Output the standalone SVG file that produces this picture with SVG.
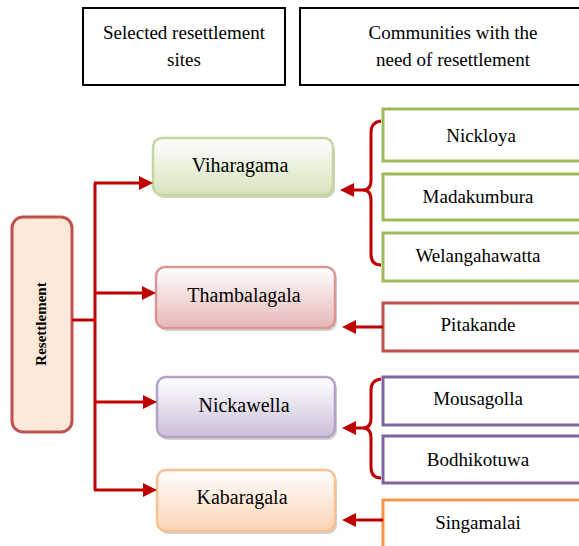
<svg xmlns="http://www.w3.org/2000/svg" width="579" height="546" viewBox="0 0 579 546">
<style>
text{font-family:'Liberation Serif',serif;fill:#000;text-anchor:middle}
.hdr{fill:#fff;stroke:#000;stroke-width:2}
.site{stroke-width:2.5}
.shd{fill:#000;fill-opacity:0.18}
.com{fill:#fff;stroke-width:3}
.ln{fill:none;stroke:#c00000;stroke-width:3}
.arr{fill:#c00000}
</style>
<defs>
<linearGradient id="gG" x1="0" y1="0" x2="0" y2="1"><stop offset="0" stop-color="#ffffff"/><stop offset="1" stop-color="#d6e3bc"/></linearGradient>
<linearGradient id="gR" x1="0" y1="0" x2="0" y2="1"><stop offset="0" stop-color="#ffffff"/><stop offset="1" stop-color="#e5b8b7"/></linearGradient>
<linearGradient id="gP" x1="0" y1="0" x2="0" y2="1"><stop offset="0" stop-color="#ffffff"/><stop offset="1" stop-color="#ccc0da"/></linearGradient>
<linearGradient id="gO" x1="0" y1="0" x2="0" y2="1"><stop offset="0" stop-color="#ffffff"/><stop offset="1" stop-color="#fbd4b4"/></linearGradient>
</defs>

<g id="header1"><rect class="hdr" x="83" y="8" width="202" height="77"/><text x="184" y="39" font-size="19">Selected resettlement</text><text x="184" y="66" font-size="19">sites</text></g>
<g id="header2"><rect class="hdr" x="300" y="8" width="285" height="77"/><text x="453" y="39" font-size="19">Communities with the</text><text x="453" y="66" font-size="19">need of resettlement</text></g>

<g id="resettlement"><rect x="12" y="217" width="60" height="215" rx="11" fill="#fde9d9" stroke="#c0504d" stroke-width="3"/><text font-size="15" font-weight="bold" transform="translate(46,324) rotate(-90)">Resettlement</text></g>

<g id="viharagama"><rect class="shd" x="155" y="141" width="180" height="57" rx="9"/><rect class="site" x="153" y="138" width="180" height="57" rx="9" fill="url(#gG)" stroke="#c3d69b"/><text x="240" y="172" font-size="20">Viharagama</text></g>
<g id="thambalagala"><rect class="shd" x="158" y="270" width="179" height="61" rx="9"/><rect class="site" x="156" y="267" width="179" height="61" rx="9" fill="url(#gR)" stroke="#d99694"/><text x="244" y="302" font-size="20">Thambalagala</text></g>
<g id="nickawella"><rect class="shd" x="159" y="380" width="178" height="60" rx="9"/><rect class="site" x="157" y="377" width="178" height="60" rx="9" fill="url(#gP)" stroke="#b3a2c7"/><text x="244" y="412" font-size="20">Nickawella</text></g>
<g id="kabaragala"><rect class="shd" x="159" y="473" width="178" height="61" rx="9"/><rect class="site" x="157" y="470" width="178" height="61" rx="9" fill="url(#gO)" stroke="#fac08f"/><text x="242" y="504" font-size="20">Kabaragala</text></g>

<g id="nickloya"><rect class="com" x="383" y="109" width="200" height="52" stroke="#9bbb59"/><text x="481" y="142" font-size="19">Nickloya</text></g>
<g id="madakumbura"><rect class="com" x="383" y="174" width="200" height="46" stroke="#9bbb59"/><text x="478" y="203" font-size="19">Madakumbura</text></g>
<g id="welangahawatta"><rect class="com" x="383" y="233" width="200" height="48" stroke="#9bbb59"/><text x="478" y="262" font-size="19">Welangahawatta</text></g>
<g id="pitakande"><rect class="com" x="383" y="303" width="200" height="48" stroke="#c0504d"/><text x="478" y="331" font-size="19">Pitakande</text></g>
<g id="mousagolla"><rect class="com" x="383" y="377" width="200" height="48" stroke="#8064a2"/><text x="478" y="405" font-size="19">Mousagolla</text></g>
<g id="bodhikotuwa"><rect class="com" x="383" y="436" width="200" height="47" stroke="#8064a2"/><text x="478" y="466" font-size="19">Bodhikotuwa</text></g>
<g id="singamalai"><rect class="com" x="383" y="500" width="200" height="52" stroke="#f79646"/><text x="478" y="529" font-size="19">Singamalai</text></g>

<g id="connectors">
<path class="ln" d="M72,320 H95 M95,183 V490"/>
<path class="ln" d="M94,183 H140 M94,293 H143 M94,402 H144 M94,490 H144"/>
<path class="arr" d="M153,183 L139,176 L139,190 Z M156,293 L142,286 L142,300 Z M157,402 L143,395 L143,409 Z M157,490 L143,483 L143,497 Z"/>
<path class="ln" d="M381,121 Q371,122 371,133 V180 Q371,190 363,190 Q371,190 371,200 V254 Q371,265 381,265"/>
<path class="ln" d="M383,327 H352 M364,190 H352 M364,428 H352 M383,520 H352"/>
<path class="ln" d="M381,379 Q371,380 371,390 V418 Q371,428 363,428 Q371,428 371,438 V467 Q371,478 381,478"/>
<path class="arr" d="M340,190 L354,183 L354,197 Z M342,327 L356,320 L356,334 Z M342,428 L356,421 L356,435 Z M342,520 L356,513 L356,527 Z"/>
</g>
</svg>
